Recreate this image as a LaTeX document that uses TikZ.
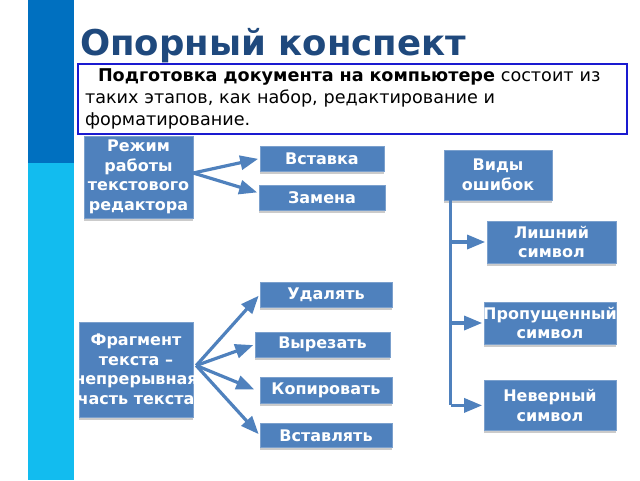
\documentclass[tikz,border=0pt]{standalone}
\usepackage{fontspec}
\setmainfont{DejaVu Sans}
\usetikzlibrary{shapes,arrows,positioning,shadows}
\definecolor{barblue}{HTML}{0070C0}
\definecolor{barcyan}{HTML}{12BCEF}
\definecolor{titleblue}{HTML}{1F497D}
\definecolor{boxblue}{HTML}{4F81BD}
\definecolor{frameblue}{HTML}{1A1AD0}
\tikzstyle{box}=[rectangle,fill=boxblue,draw=boxblue!75!white,text=white,align=center,inner sep=0pt,font=\fontsize{16}{19.5}\selectfont\bfseries,drop shadow={shadow xshift=0pt,shadow yshift=-3pt,fill=black!40}]
\tikzstyle{arr}=[-triangle 45,line width=3.2pt,draw=boxblue,shorten >=2pt]
\tikzstyle{trunk}=[line width=3.2pt,draw=boxblue]

\begin{document}
\begin{tikzpicture}[x=1pt,y=-1pt]
\useasboundingbox (0,0) rectangle (640,480);
\fill[white] (0,0) rectangle (640,480);
% side bars
\fill[barblue] (28,0) rectangle (74,163);
\fill[barcyan] (28,163) rectangle (74,480);
\node (title) [anchor=base west,inner sep=0pt,text=titleblue,font=\fontsize{35.5}{40}\selectfont\bfseries] at (80,55) {Опорный конспект};
\node (intro) [draw=frameblue,line width=1.5pt,fill=white,minimum width=549pt,minimum height=70pt,text width=535pt,inner sep=0pt,align=left,font=\fontsize{17.6}{22}\selectfont] at (352.5,99) {\hspace*{13pt}\textbf{Подготовка документа на компьютере} состоит из\\таких этапов, как набор, редактирование и\\форматирование.};
% mode of the editor
\node (mode) [box,minimum width=109pt,minimum height=82pt] at (138.5,177) {Режим\\работы\\текстового\\редактора};
\node (ins) [box,minimum width=124pt,minimum height=25pt] at (322,158.5) {Вставка};
\node (repl) [box,minimum width=126pt,minimum height=25pt,below=14pt of ins] {Замена};
% kinds of errors
\node (errs) [box,minimum width=108pt,minimum height=50pt] at (498,175) {Виды\\ошибок};
\node (extra) [box,minimum width=129pt,minimum height=42pt] at (551.5,242) {Лишний\\символ};
\node (miss) [box,minimum width=132pt,minimum height=42pt] at (550,323) {\makebox[120pt]{Пропущенный}\\символ};
\node (wrong) [box,minimum width=132pt,minimum height=50pt,below=36pt of miss] {Неверный\\символ};
% text fragment
\node (frag) [box,minimum width=114pt,minimum height=95pt] at (136,369.5) {Фрагмент\\текста –\\\makebox[100pt]{непрерывная}\\\makebox[100pt]{часть текста}};
\node (del) [box,minimum width=132pt,minimum height=25pt] at (326,294.5) {Удалять};
\node (cut) [box,minimum width=135pt,minimum height=25pt] at (322.5,344.5) {Вырезать};
\node (copy) [box,minimum width=132pt,minimum height=26pt] at (326,390) {Копировать};
\node (paste) [box,minimum width=132pt,minimum height=24pt,below=20pt of copy] {Вставлять};
\draw [arr] ([yshift=4pt]mode.east) -- (ins.west);
\draw [arr] ([yshift=4pt]mode.east) -- ([yshift=5pt]repl.west);
\coordinate (tt) at ([xshift=7pt]errs.south west);
\coordinate (tb) at (tt |- wrong.west);
\draw [trunk] (tt) -- (tb);
\draw [arr] (tt |- extra.west) -- (extra.west);
\draw [arr] (tt |- miss.west) -- (miss.west);
\draw [arr] (tb) -- (wrong.west);
\draw [arr] ([xshift=3pt,yshift=4pt]frag.east) -- (del.west);
\draw [arr] ([xshift=3pt,yshift=4pt]frag.east) -- (cut.west);
\draw [arr] ([xshift=3pt,yshift=4pt]frag.east) -- ([xshift=-4pt]copy.west);
\draw [arr] ([xshift=3pt,yshift=4pt]frag.east) -- (paste.west);
\end{tikzpicture}
\end{document}
